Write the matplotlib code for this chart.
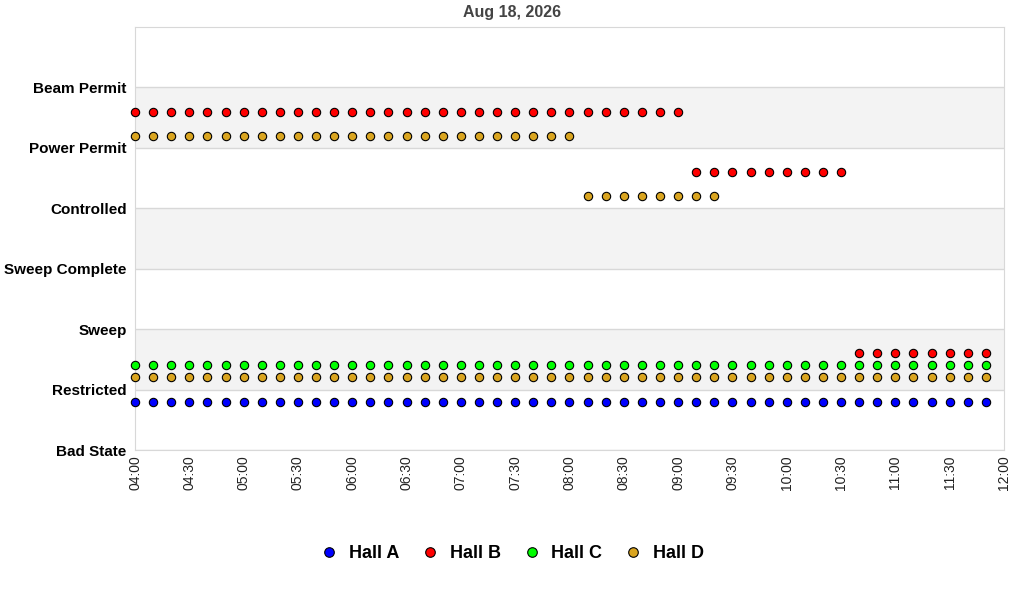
import pandas as pd
import matplotlib
matplotlib.use('Agg')
import matplotlib.pyplot as plt
import matplotlib.dates as mdates

plt.rcParams['font.family'] = ['Liberation Sans', 'DejaVu Sans']

DAY = '2026-08-18'
states = ['Bad State', 'Restricted', 'Sweep', 'Sweep Complete', 'Controlled', 'Power Permit', 'Beam Permit']

# each hall: list of (first sample, last sample, state) - samples every 10 minutes
hall_a = [('04:00', '11:50', 'Restricted')]
hall_b = [('04:00', '09:00', 'Power Permit'),
          ('09:10', '10:30', 'Controlled'),
          ('10:40', '11:50', 'Restricted')]
hall_c = [('04:00', '11:50', 'Restricted')]
hall_d = [('04:00', '08:00', 'Power Permit'),
          ('08:10', '09:20', 'Controlled'),
          ('04:00', '11:50', 'Restricted')]

halls = ['Hall A', 'Hall B', 'Hall C', 'Hall D']
segments = [hall_a, hall_b, hall_c, hall_d]
colors = ['#0000ff', '#ff0000', '#00ff00', '#daa520']
offsets = [-0.2, 0.6, 0.4, 0.2]

fig = plt.figure(figsize=(10.24, 6.0), dpi=100)
ax = fig.add_axes([135/1024, 1-450/600, (1004-135)/1024, (450-27)/600])

for k in range(1, 7, 2):
    ax.axhspan(k, k+1, color='#f3f3f3', zorder=0, lw=0)

for name, segs, col, off in zip(halls, segments, colors, offsets):
    first = True
    for start, end, st in segs:
        t = pd.date_range(f'{DAY} {start}', f'{DAY} {end}', freq='10min')
        y = [states.index(st) + off] * len(t)
        ax.plot(t, y, ls='none', marker='o', ms=6, mfc=col, mec='black', mew=0.8,
                label=name if first else None, zorder=3, clip_on=False)
        first = False

ax.set_ylim(0, 7)
ax.set_yticks(range(len(states)))
ax.set_yticklabels(states, fontweight='bold', fontsize=11)
ax.set_xlim(pd.Timestamp(f'{DAY} 04:00'), pd.Timestamp(f'{DAY} 12:00'))
ax.xaxis.set_major_locator(mdates.MinuteLocator(byminute=[0, 30]))
ax.xaxis.set_major_formatter(mdates.DateFormatter('%H:%M'))
plt.setp(ax.get_xticklabels(), rotation=90, fontsize=10, color='#222222')
ax.tick_params(length=0, pad=4)
ax.tick_params(axis='y', pad=6)
ax.grid(axis='y', color='#d8d8d8', lw=1, zorder=1)
for s in ax.spines.values():
    s.set_color('#d8d8d8')
fig.suptitle('Aug 18, 2026', x=0.5, y=1-13/600, va='center',
             fontweight='bold', fontsize=11.5, color='#444444')

fig.legend(loc='center', bbox_to_anchor=(0.5, 1-554/600), ncol=4, frameon=False,
           prop={'weight': 'bold', 'size': 13}, handlelength=1.0, handletextpad=0.6,
           columnspacing=1.2, markerscale=1.15)

fig.savefig('out.png', dpi=100)
